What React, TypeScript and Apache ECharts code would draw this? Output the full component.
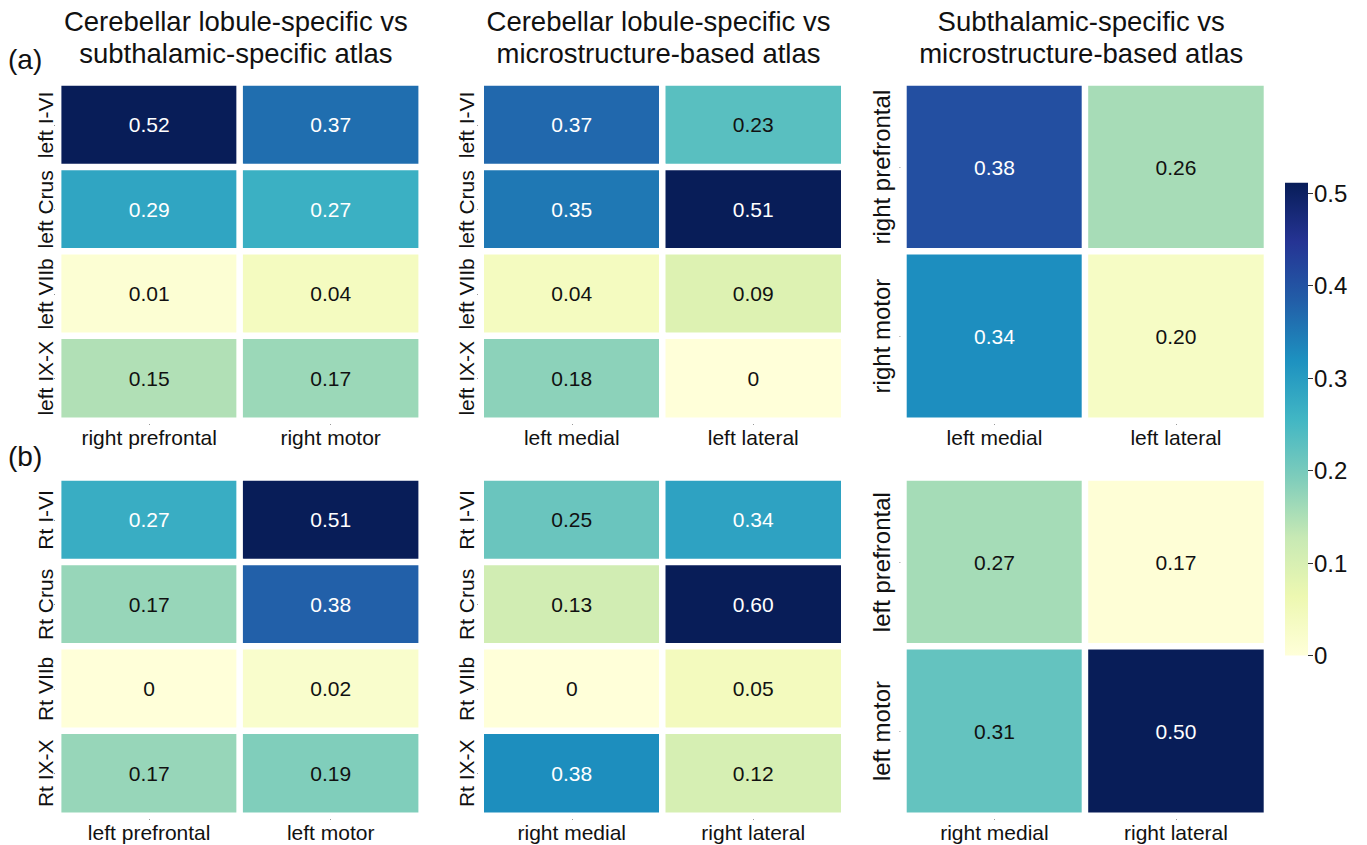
import React, { useEffect, useRef } from 'react';
import * as echarts from 'echarts';

// ---------- data ----------
const YLGNBU = ['#ffffd9', '#edf8b1', '#c7e9b4', '#7fcdbb', '#41b6c4', '#1d91c0', '#225ea8', '#253494', '#081d58'];

const columnTitles = [
  'Cerebellar lobule-specific vs\nsubthalamic-specific atlas',
  'Cerebellar lobule-specific vs\nmicrostructure-based atlas',
  'Subthalamic-specific vs\nmicrostructure-based atlas',
];
const rowTags = ['(a)', '(b)'];

// (a) row
const aCerebRows = ['left I-VI', 'left Crus', 'left VIIb', 'left IX-X'];
const aSubCols = ['right prefrontal', 'right motor'];
const aCerebSubValues = [[0.52, 0.37], [0.29, 0.27], [0.01, 0.04], [0.15, 0.17]];
const aMicroCols = ['left medial', 'left lateral'];
const aCerebMicroValues = [[0.37, 0.23], [0.35, 0.51], [0.04, 0.09], [0.18, 0]];
const aSubRows = ['right prefrontal', 'right motor'];
const aSubMicroValues = [[0.38, 0.26], [0.34, 0.2]];

// (b) row
const bCerebRows = ['Rt I-VI', 'Rt Crus', 'Rt VIIb', 'Rt IX-X'];
const bSubCols = ['left prefrontal', 'left motor'];
const bCerebSubValues = [[0.27, 0.51], [0.17, 0.38], [0, 0.02], [0.17, 0.19]];
const bMicroCols = ['right medial', 'right lateral'];
const bCerebMicroValues = [[0.25, 0.34], [0.13, 0.6], [0, 0.05], [0.38, 0.12]];
const bSubRows = ['left prefrontal', 'left motor'];
const bSubMicroValues = [[0.27, 0.17], [0.31, 0.5]];

// colour range of each panel (a1, a2, a3, b1, b2, b3)
const panelColorMin = [0, 0, 0.185, 0, 0, 0.167];
const panelColorMax = [0.52, 0.51, 0.43, 0.51, 0.6, 0.5];

// colour bar ticks
const colorbarTicks = [0, 0.1, 0.2, 0.3, 0.4, 0.5];
const colorbarTop = 0.511;

// ---------- layout ----------
const FONT = "'Liberation Sans', Arial, Helvetica, sans-serif";
const colLeft = [58.4, 481, 903.7];
const gridW = 363;
const rowTop = [82.7, 477.7];
const gridH = 337.8;
const yLabelSize = [21, 21, 24];
const yLabelMargin = [2, 4, 10];
const cb = { left: 1285, top: 193, width: 23, height: 462.5 };

const panels = [
  { rows: aCerebRows, cols: aSubCols, values: aCerebSubValues },
  { rows: aCerebRows, cols: aMicroCols, values: aCerebMicroValues },
  { rows: aSubRows, cols: aMicroCols, values: aSubMicroValues },
  { rows: bCerebRows, cols: bSubCols, values: bCerebSubValues },
  { rows: bCerebRows, cols: bMicroCols, values: bCerebMicroValues },
  { rows: bSubRows, cols: bMicroCols, values: bSubMicroValues },
];

function buildOption() {
  const grid: any[] = [];
  const xAxis: any[] = [];
  const yAxis: any[] = [];
  const series: any[] = [];
  const visualMap: any[] = [];
  const title: any[] = [];

  const tick = { show: true, interval: 0, alignWithLabel: true, length: 4, lineStyle: { color: '#333', width: 1 } };

  panels.forEach((p, i) => {
    const col = i % 3;
    const row = Math.floor(i / 3);
    grid.push({ left: colLeft[col], top: rowTop[row], width: gridW, height: gridH, containLabel: false });
    xAxis.push({
      gridIndex: i,
      type: 'category',
      data: p.cols,
      position: 'bottom',
      axisLine: { show: false },
      axisTick: tick,
      axisLabel: { interval: 0, fontSize: 21, color: '#111', margin: 6, fontFamily: FONT },
      splitLine: { show: false },
    });
    yAxis.push({
      gridIndex: i,
      type: 'category',
      data: p.rows,
      inverse: true,
      axisLine: { show: false },
      axisTick: tick,
      axisLabel: {
        interval: 0,
        fontSize: yLabelSize[col],
        color: '#111',
        margin: yLabelMargin[col],
        rotate: 90,
        fontFamily: FONT,
      },
      splitLine: { show: false },
    });
    const vmin = panelColorMin[i];
    const vmax = panelColorMax[i];
    const data: any[] = [];
    p.values.forEach((rowVals, yi) => {
      rowVals.forEach((v, xi) => {
        const t = (v - vmin) / (vmax - vmin);
        data.push({ value: [xi, yi, v], label: { color: t > 0.5 ? '#ffffff' : '#111111' } });
      });
    });
    series.push({
      type: 'heatmap',
      xAxisIndex: i,
      yAxisIndex: i,
      data,
      label: {
        show: true,
        fontSize: 21,
        fontFamily: FONT,
        formatter: (pr: any) => (pr.value[2] === 0 ? '0' : pr.value[2].toFixed(2)),
      },
      itemStyle: { borderColor: '#ffffff', borderWidth: 6.5 },
      emphasis: { disabled: true },
    });
    visualMap.push({
      type: 'continuous',
      show: false,
      seriesIndex: i,
      dimension: 2,
      min: vmin,
      max: vmax,
      inRange: { color: YLGNBU },
    });
  });

  columnTitles.forEach((t, c) => {
    title.push({
      text: t,
      left: colLeft[c] + gridW / 2 - 4,
      top: 5.8,
      textAlign: 'center',
      padding: 0,
      textStyle: { fontSize: 27.5, lineHeight: 31.6, fontWeight: 'normal', color: '#111', fontFamily: FONT },
    });
  });
  const tagTops = [45.6, 442.3];
  rowTags.forEach((t, r) => {
    title.push({
      text: t,
      left: 8,
      top: tagTops[r],
      padding: 0,
      textStyle: { fontSize: 28, lineHeight: 28, fontWeight: 'normal', color: '#111', fontFamily: FONT },
    });
  });

  // colour bar axis
  grid.push({ left: cb.left, top: cb.top, width: cb.width, height: cb.height });
  xAxis.push({ gridIndex: 6, type: 'category', data: [''], show: false });
  yAxis.push({
    gridIndex: 6,
    type: 'value',
    min: colorbarTicks[0],
    max: colorbarTicks[colorbarTicks.length - 1],
    interval: 0.1,
    position: 'right',
    axisLine: { show: false },
    axisTick: { show: true, length: 5, lineStyle: { color: '#333', width: 1 } },
    axisLabel: {
      fontSize: 24,
      color: '#111',
      margin: 6,
      fontFamily: FONT,
      formatter: (v: number) => (v === 0 ? '0' : v.toFixed(1)),
    },
    splitLine: { show: false },
  });

  const ext = cb.height * (colorbarTop / colorbarTicks[colorbarTicks.length - 1]);
  const graphic = [
    {
      type: 'rect',
      z: -1,
      shape: { x: cb.left, y: cb.top + cb.height - ext, width: cb.width, height: ext },
      style: {
        fill: new echarts.graphic.LinearGradient(
          0, 1, 0, 0,
          YLGNBU.map((c, k) => ({ offset: k / (YLGNBU.length - 1), color: c })),
        ),
      },
    },
  ];

  return {
    animation: false,
    backgroundColor: '#ffffff',
    textStyle: { fontFamily: FONT },
    title,
    grid,
    xAxis,
    yAxis,
    visualMap,
    series,
    graphic,
  };
}

export default function App() {
  const ref = useRef<HTMLDivElement>(null);
  useEffect(() => {
    if (!ref.current) return;
    const chart = echarts.init(ref.current, undefined, { renderer: 'svg' });
    chart.setOption(buildOption() as any);
    return () => chart.dispose();
  }, []);
  return (
    <div
      ref={ref}
      style={{ position: 'fixed', left: 0, top: 0, width: 1367, height: 845, background: '#fff' }}
    />
  );
}
